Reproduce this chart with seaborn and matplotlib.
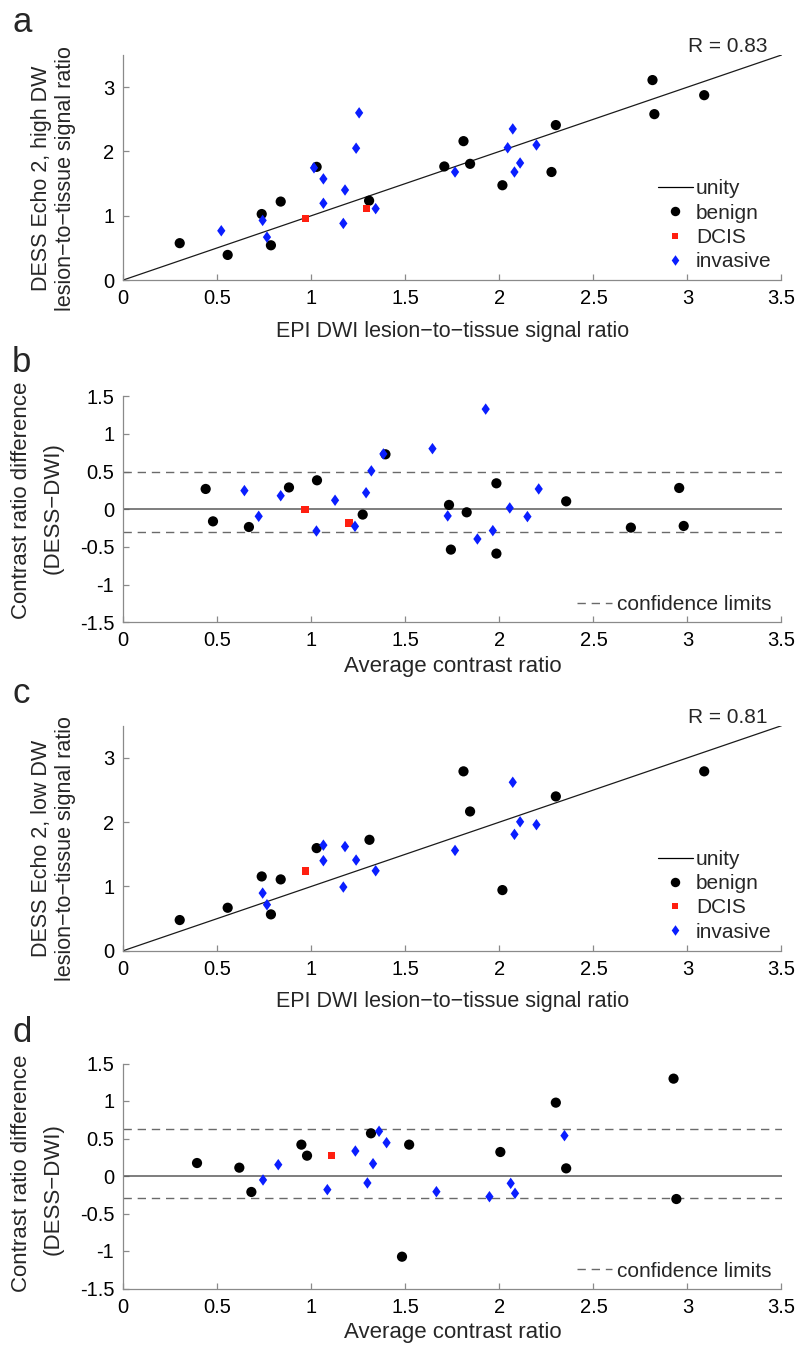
import matplotlib
matplotlib.use("Agg")
import matplotlib.pyplot as plt
import seaborn as sns
from matplotlib.lines import Line2D
from matplotlib.ticker import FuncFormatter

# ---------------- Data ----------------
# Panel a: EPI DWI vs DESS Echo 2 (high DW)
a_benign_x = [0.30, 0.555, 0.736, 0.785, 0.837, 1.028, 1.307, 1.707, 1.809, 1.844,
              2.016, 2.277, 2.30, 2.814, 2.824, 3.089]
a_benign_y = [0.573, 0.39, 1.026, 0.54, 1.22, 1.76, 1.234, 1.766, 2.16, 1.807,
              1.474, 1.68, 2.41, 3.11, 2.58, 2.875]
a_dcis_x = [0.970, 1.293]
a_dcis_y = [0.958, 1.11]
a_inv_x = [0.521, 0.741, 0.764, 1.014, 1.064, 1.064, 1.170, 1.179, 1.238, 1.254,
           1.342, 1.764, 2.044, 2.071, 2.08, 2.11, 2.197]
a_inv_y = [0.766, 0.927, 0.667, 1.745, 1.573, 1.193, 0.88, 1.40, 2.05, 2.60,
           1.11, 1.68, 2.057, 2.35, 1.68, 1.82, 2.10]
a_r_text = "R = 0.83"

# Panel b: Bland-Altman (high DW)
b_benign_x = [0.438, 0.477, 0.668, 0.881, 1.030, 1.273, 1.394, 1.732, 1.742, 1.826,
              1.984, 1.984, 2.355, 2.699, 2.956, 2.98]
b_benign_y = [0.27, -0.16, -0.235, 0.29, 0.385, -0.07, 0.73, 0.058, -0.535, -0.04,
              0.345, -0.588, 0.106, -0.243, 0.283, -0.221]
b_dcis_x = [0.966, 1.200]
b_dcis_y = [-0.004, -0.18]
b_inv_x = [0.644, 0.72, 0.837, 1.027, 1.126, 1.232, 1.291, 1.319, 1.383, 1.644,
           1.725, 1.883, 1.927, 1.965, 2.055, 2.149, 2.209]
b_inv_y = [0.248, -0.093, 0.18, -0.288, 0.12, -0.226, 0.22, 0.51, 0.735, 0.805,
           -0.088, -0.394, 1.33, -0.283, 0.018, -0.097, 0.27]
b_limits = [-0.305, 0.495]

# Panel c: EPI DWI vs DESS Echo 2 (low DW)
c_benign_x = [0.30, 0.555, 0.736, 0.785, 0.837, 1.028, 1.309, 1.809, 1.844, 2.016,
              2.30, 3.089]
c_benign_y = [0.477, 0.668, 1.155, 0.565, 1.109, 1.596, 1.725, 2.79, 2.166, 0.943,
              2.40, 2.79]
c_dcis_x = [0.970]
c_dcis_y = [1.238]
c_inv_x = [0.741, 0.764, 1.064, 1.064, 1.170, 1.179, 1.238, 1.342, 1.764, 2.071,
           2.08, 2.11, 2.197]
c_inv_y = [0.896, 0.715, 1.642, 1.40, 0.99, 1.62, 1.41, 1.243, 1.56, 2.62,
           1.81, 2.005, 1.96]
c_r_text = "R = 0.81"

# Panel d: Bland-Altman (low DW)
d_benign_x = [0.392, 0.617, 0.681, 0.947, 0.977, 1.317, 1.482, 1.52, 2.005, 2.30,
              2.355, 2.926, 2.941]
d_benign_y = [0.173, 0.111, -0.213, 0.418, 0.271, 0.569, -1.076, 0.418, 0.32, 0.978,
              0.102, 1.298, -0.307]
d_dcis_x = [1.108]
d_dcis_y = [0.271]
d_inv_x = [0.743, 0.824, 1.085, 1.234, 1.298, 1.328, 1.36, 1.40, 1.665, 1.947,
           2.06, 2.083, 2.346]
d_inv_y = [-0.053, 0.151, -0.182, 0.333, -0.093, 0.164, 0.596, 0.444, -0.209, -0.276,
           -0.098, -0.231, 0.538]
d_limits = [-0.289, 0.622]

x_ticks = [0, 0.5, 1, 1.5, 2, 2.5, 3, 3.5]
scatter_yticks = [0, 1, 2, 3]
diff_yticks = [-1.5, -1, -0.5, 0, 0.5, 1, 1.5]
legend_labels = ["unity", "benign", "DCIS", "invasive"]

# ---------------- Style ----------------
sns.set_theme(style="ticks")
plt.rcParams["font.family"] = ["Liberation Sans", "DejaVu Sans"]
plt.rcParams["axes.unicode_minus"] = False

FS_TICK = 14.5
FS_LEG = 15
FS_LAB_AC = 15.5
FS_LAB_BD = 16
SPINE = "#8a8a8a"
BLACK = "#000000"
RED = "#ff1f10"
BLUE = "#0a1eff"
DIAMOND = [(0, 1), (0.72, 0), (0, -1), (-0.72, 0), (0, 1)]

COL = {"benign": BLACK, "DCIS": RED, "invasive": BLUE}
MK = {"benign": "o", "DCIS": "s", "invasive": DIAMOND}
SZ = {"benign": 54, "DCIS": 28, "invasive": 68}

W, H = 799, 1347
fig = plt.figure(figsize=(W / 100, H / 100), dpi=100)
fig.patch.set_facecolor("white")


def add_ax(left, top, right, bottom):
    return fig.add_axes([left / W, 1 - bottom / H, (right - left) / W, (bottom - top) / H])


ax_a = add_ax(123.3, 55, 781.5, 280)
ax_b = add_ax(123.3, 396.3, 781.5, 622.3)
ax_c = add_ax(123.3, 725.7, 781.5, 950.7)
ax_d = add_ax(123.3, 1063.5, 781.5, 1288.5)

fmt = FuncFormatter(lambda v, p: f"{v:g}")


def style(ax, yticks, ylim):
    ax.set_facecolor("white")
    ax.set_xlim(0, 3.5)
    ax.set_ylim(*ylim)
    ax.set_xticks(x_ticks)
    ax.set_yticks(yticks)
    ax.xaxis.set_major_formatter(fmt)
    ax.yaxis.set_major_formatter(fmt)
    for s in ["top", "right"]:
        ax.spines[s].set_visible(False)
    for s in ["left", "bottom"]:
        ax.spines[s].set_color(SPINE)
        ax.spines[s].set_linewidth(0.9)
    ax.tick_params(direction="in", length=4, width=0.9, color=SPINE,
                   labelsize=FS_TICK, pad=6.5, labelcolor="black")


def scatter(ax, x, y, kind):
    sns.scatterplot(x=x, y=y, ax=ax, color=COL[kind], marker=MK[kind], s=SZ[kind],
                    linewidth=0, edgecolor="none", zorder=3, legend=False)


def group_legend(ax):
    handles = [
        Line2D([], [], color="black", lw=0.9),
        Line2D([], [], ls="none", marker="o", color=BLACK, ms=6.8, mew=0),
        Line2D([], [], ls="none", marker="s", color=RED, ms=4.8, mew=0),
        Line2D([], [], ls="none", marker=DIAMOND, color=BLUE, ms=7.6, mew=0),
    ]
    ax.legend(handles, legend_labels, loc="lower right", bbox_to_anchor=(0.985, 0.04),
              frameon=False, fontsize=FS_LEG, handlelength=1.68, handletextpad=0.16,
              borderpad=0, borderaxespad=0, labelspacing=0.25)


def conf_legend(ax):
    h = Line2D([], [], color="#6a6a6a", lw=1.0, dashes=(6.0, 4.2))
    ax.legend([h], ["confidence limits"], loc="lower right", bbox_to_anchor=(0.985, 0.035),
              frameon=False, fontsize=FS_LEG, handlelength=1.68, handletextpad=0.24,
              borderpad=0, borderaxespad=0)


def corr_panel(ax, bx, by, dx, dy, ix, iy, rtext, ylabel):
    style(ax, scatter_yticks, (0, 3.5))
    ax.axline((0, 0), slope=1, color="#1a1a1a", lw=0.9, zorder=2)
    scatter(ax, bx, by, "benign")
    scatter(ax, dx, dy, "DCIS")
    scatter(ax, ix, iy, "invasive")
    ax.text(0.979, 1.013, rtext, transform=ax.transAxes, ha="right", va="baseline",
            fontsize=FS_LEG)
    ax.set_xlabel("EPI DWI lesion\u2212to\u2212tissue signal ratio", fontsize=FS_LAB_AC,
                  labelpad=9)
    ax.set_ylabel(ylabel, fontsize=FS_LAB_AC, linespacing=1.18, va="center")
    ax.yaxis.set_label_coords(-0.106, 0.453)
    group_legend(ax)


def diff_panel(ax, bx, by, dx, dy, ix, iy, limits, y1, y2):
    style(ax, diff_yticks, (-1.5, 1.5))
    ax.axhline(0, color="#5a5a5a", lw=1.1, zorder=2)
    for v in limits:
        ax.axhline(v, color="#6a6a6a", lw=1.0, dashes=(6.0, 4.2), zorder=2)
    scatter(ax, bx, by, "benign")
    scatter(ax, dx, dy, "DCIS")
    scatter(ax, ix, iy, "invasive")
    ax.set_xlabel("Average contrast ratio", fontsize=FS_LAB_BD, labelpad=4)
    ax.set_ylabel("Contrast ratio difference", fontsize=FS_LAB_BD, va="center")
    ax.yaxis.set_label_coords(-0.154, y1)
    ax.text(-0.106, y2, "(DESS\u2212DWI)", transform=ax.transAxes, rotation=90,
            ha="center", va="center", fontsize=FS_LAB_BD)
    conf_legend(ax)


corr_panel(ax_a, a_benign_x, a_benign_y, a_dcis_x, a_dcis_y, a_inv_x, a_inv_y, a_r_text,
           "DESS Echo 2, high DW\nlesion\u2212to\u2212tissue signal ratio")
diff_panel(ax_b, b_benign_x, b_benign_y, b_dcis_x, b_dcis_y, b_inv_x, b_inv_y, b_limits,
           0.54, 0.506)
corr_panel(ax_c, c_benign_x, c_benign_y, c_dcis_x, c_dcis_y, c_inv_x, c_inv_y, c_r_text,
           "DESS Echo 2, low DW\nlesion\u2212to\u2212tissue signal ratio")
diff_panel(ax_d, d_benign_x, d_benign_y, d_dcis_x, d_dcis_y, d_inv_x, d_inv_y, d_limits,
           0.51, 0.44)

for letter, base in zip(["a", "b", "c", "d"], [32, 372, 703, 1042]):
    fig.text(12 / W, 1 - base / H, letter, fontsize=25, ha="left", va="baseline")

fig.savefig("out.png", dpi=100, facecolor="white")
